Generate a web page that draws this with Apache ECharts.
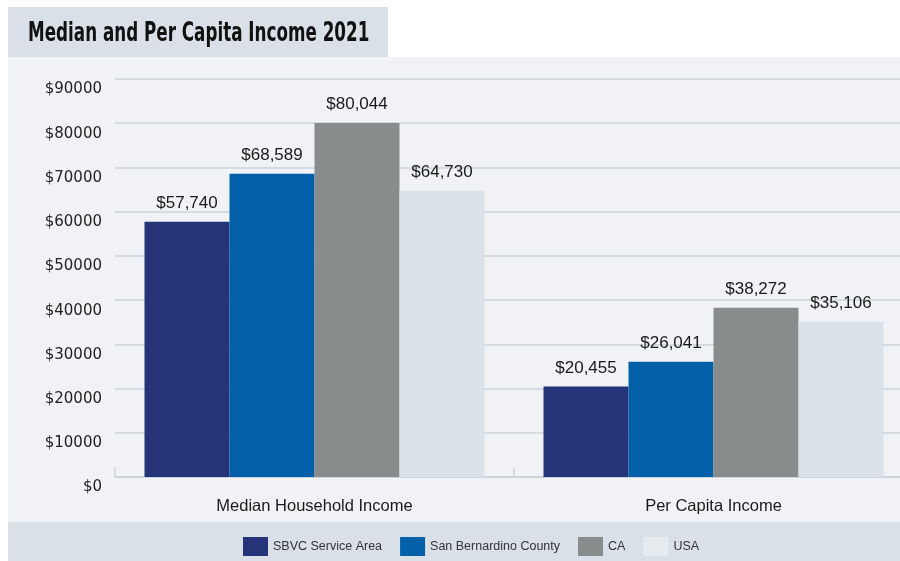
<!DOCTYPE html>
<html>
<head>
<meta charset="utf-8">
<script src="https://cdn.jsdelivr.net/npm/echarts@6/dist/echarts.min.js"></script>
<style>
  html, body { margin: 0; padding: 0; background: #ffffff; }
  #chart { width: 900px; height: 561px; }
</style>
</head>
<body>
<div id="chart"></div>
<script>
// data
const categories = ["Median Household Income", "Per Capita Income"];
const seriesNames = ["SBVC Service Area", "San Bernardino County", "CA", "USA"];
const sbvc = [57740, 20455];
const sbCounty = [68589, 26041];
const ca = [80044, 38272];
const usa = [64730, 35106];
const colors = ["#253479", "#0560aa", "#898c8d", "#dbe1e8"];
const legendColors = ["#253479", "#0560aa", "#898c8d", "#e7eaef"];

const chart = echarts.init(document.getElementById("chart"));

function money(v) {
  return "$" + String(v).replace(/\B(?=(\d{3})+(?!\d))/g, ",");
}

function barSeries(name, data, color) {
  return {
    name: name,
    type: "bar",
    data: data,
    barWidth: 85,
    barGap: "0%",
    itemStyle: { color: color },
    label: {
      show: true,
      position: "top",
      distance: 10,
      formatter: (p) => money(p.value),
      color: "#1a1a1a",
      fontSize: 17,
      fontFamily: "Liberation Sans, Arial, sans-serif"
    }
  };
}

const option = {
  animation: false,
  backgroundColor: "#ffffff",
  graphic: [
    { type: "rect", z: -10, shape: { x: 8, y: 57, width: 892, height: 465 }, style: { fill: "#f0f2f6" } },
    { type: "rect", z: -10, shape: { x: 8, y: 522, width: 892, height: 39 }, style: { fill: "#dae0e7" } },
    { type: "rect", z: -10, shape: { x: 8, y: 7, width: 380, height: 50 }, style: { fill: "#dae0e7" } },
    {
      type: "text", x: 28, y: 21, scaleX: 0.645,
      style: {
        text: "Median and Per Capita Income 2021",
        font: "bold 26px 'Liberation Sans Narrow', 'DejaVu Sans', sans-serif",
        fill: "#111111"
      }
    }
  ],
  legend: {
    data: seriesNames.map((n, i) => ({ name: n, itemStyle: { color: legendColors[i] } })),
    left: 238,
    top: 532,
    itemWidth: 25,
    itemHeight: 19,
    itemGap: 18,
    icon: "rect",
    textStyle: { color: "#333333", fontSize: 12.5, fontFamily: "Liberation Sans, Arial, sans-serif" }
  },
  grid: { left: 115, width: 798, top: 79, bottom: 84, outerBoundsMode: "none" },
  xAxis: {
    type: "category",
    data: categories,
    axisLine: { lineStyle: { color: "#cdd5da", width: 2 } },
    axisTick: { show: true, inside: true, length: 10, lineStyle: { color: "#cdd5da", width: 1.5 } },
    axisLabel: { color: "#1a1a1a", fontSize: 16.5, margin: 21, fontFamily: "Liberation Sans, Arial, sans-serif" }
  },
  yAxis: {
    type: "value",
    min: 0,
    max: 90000,
    interval: 10000,
    axisLine: { show: false },
    axisTick: { show: false },
    splitLine: { lineStyle: { color: "#cdd5da", width: 1.5 } },
    axisLabel: {
      formatter: (v) => "$" + v,
      color: "#222222",
      fontSize: 15,
      margin: 13,
      verticalAlign: "top",
      padding: [3, 0, 0, 0],
      fontFamily: "'DejaVu Sans', sans-serif"
    }
  },
  series: [
    barSeries(seriesNames[0], sbvc, colors[0]),
    barSeries(seriesNames[1], sbCounty, colors[1]),
    barSeries(seriesNames[2], ca, colors[2]),
    barSeries(seriesNames[3], usa, colors[3])
  ]
};

chart.setOption(option);
</script>
</body>
</html>
